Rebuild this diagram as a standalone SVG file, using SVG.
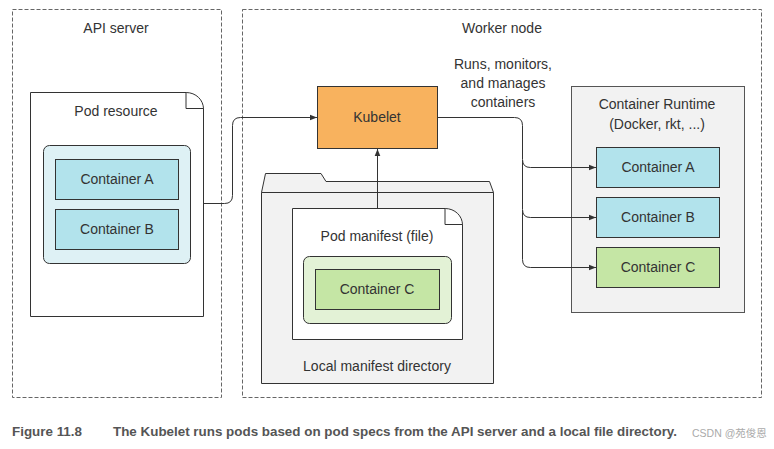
<svg xmlns="http://www.w3.org/2000/svg" width="774" height="449" viewBox="0 0 774 449">
<defs>
<style>
text{font-family:"Liberation Sans",Arial,sans-serif;font-size:14px;fill:#333;text-anchor:middle}
.dash{fill:none;stroke:#666;stroke-width:1;stroke-dasharray:4 2}
.box{stroke:#333;stroke-width:1}
.conn{fill:none;stroke:#333;stroke-width:1}
.cap{font-weight:bold;fill:#555;text-anchor:start;font-size:13.4px}
</style>
<marker id="arr" viewBox="0 0 10 10" refX="10" refY="5" markerWidth="7" markerHeight="7" markerUnits="userSpaceOnUse" orient="auto">
<path d="M0,1 L10,5 L0,9 Z" fill="#333"/>
</marker>
</defs>
<rect width="774" height="449" fill="#fff"/>

<g id="api-server">
<rect class="dash" x="12.5" y="9.5" width="209" height="388"/>
<text x="116" y="33">API server</text>
</g>

<g id="worker-node">
<rect class="dash" x="242.5" y="9.5" width="519" height="388"/>
<text x="502" y="33">Worker node</text>
<text x="503" y="69">Runs, monitors,</text>
<text x="503" y="88">and manages</text>
<text x="503" y="107">containers</text>
</g>

<g id="pod-resource">
<path class="box" fill="#fff" d="M30.5,92.5 H186 C196,92.5 203.5,100 203.5,109 V316.5 H30.5 Z"/>
<path class="box" fill="#fff" d="M186,92.5 V108.5 H203.5"/>
<text x="116" y="116">Pod resource</text>
<rect class="box" x="43.5" y="145.5" width="147" height="118" rx="6" fill="#def1f5"/>
</g>
<g id="api-container-a">
<rect class="box" x="55.5" y="159.5" width="123" height="40" fill="#b2e3ec"/>
<text x="117" y="184">Container A</text>
</g>
<g id="api-container-b">
<rect class="box" x="55.5" y="209.5" width="123" height="40" fill="#b2e3ec"/>
<text x="117" y="234">Container B</text>
</g>

<g id="kubelet">
<rect class="box" x="317.5" y="86.5" width="120" height="62" fill="#f8b25e"/>
<text x="377" y="122">Kubelet</text>
</g>

<g id="local-manifest-directory">
<path class="box" fill="#f2f2f2" d="M261.5,192.5 L265.5,173.5 H321 L326,181.5 H489.5 L493.5,192.5 V383.5 H261.5 Z"/>
<path class="box" fill="none" d="M261.5,192.5 H493.5"/>
<text x="377" y="371">Local manifest directory</text>
</g>

<g id="pod-manifest">
<path class="box" fill="#fff" d="M292.5,208.5 H445 C455,208.5 462.5,216 462.5,225 V339.5 H292.5 Z"/>
<path class="box" fill="#fff" d="M445,208.5 V224.5 H462.5"/>
<text x="377" y="241">Pod manifest (file)</text>
<rect class="box" x="303.5" y="256.5" width="148" height="67" rx="6" fill="#e3f2d6"/>
</g>
<g id="manifest-container-c">
<rect class="box" x="315.5" y="269.5" width="124" height="40" fill="#c5e6a5"/>
<text x="377" y="294">Container C</text>
</g>

<g id="container-runtime">
<rect x="571.5" y="86.5" width="173" height="226" fill="#f2f2f2" stroke="#555" stroke-width="1"/>
<text x="657" y="109">Container Runtime</text>
<text x="657" y="129">(Docker, rkt, ...)</text>
</g>
<g id="rt-container-a">
<rect class="box" x="596.5" y="147.5" width="123" height="40" fill="#b2e3ec"/>
<text x="658" y="172">Container A</text>
</g>
<g id="rt-container-b">
<rect class="box" x="596.5" y="197.5" width="123" height="40" fill="#b2e3ec"/>
<text x="658" y="222">Container B</text>
</g>
<g id="rt-container-c">
<rect class="box" x="596.5" y="247.5" width="123" height="40" fill="#c5e6a5"/>
<text x="658" y="272">Container C</text>
</g>

<g id="connectors">
<path class="conn" marker-end="url(#arr)" d="M203.5,203.5 H224.5 Q232.5,203.5 232.5,195.5 V125.5 Q232.5,117.5 240.5,117.5 H317"/>
<path class="conn" marker-end="url(#arr)" d="M377.5,208 V149"/>
<path class="conn" marker-end="url(#arr)" d="M437.5,117.5 H514.5 Q522.5,117.5 522.5,125.5 V159.5 Q522.5,167.5 530.5,167.5 H596"/>
<path class="conn" marker-end="url(#arr)" d="M522.5,160 V209.5 Q522.5,217.5 530.5,217.5 H596"/>
<path class="conn" marker-end="url(#arr)" d="M522.5,210 V259.5 Q522.5,267.5 530.5,267.5 H596"/>
</g>

<g id="caption">
<text class="cap" x="12" y="436">Figure 11.8</text>
<text class="cap" x="113" y="436">The Kubelet runs pods based on pod specs from the API server and a local file directory.</text>
<text x="692" y="437" style="text-anchor:start;font-family:'Liberation Sans','Noto Sans CJK SC',sans-serif;font-size:10.5px;fill:#aaa">CSDN @苑俊恩</text>
</g>
</svg>
